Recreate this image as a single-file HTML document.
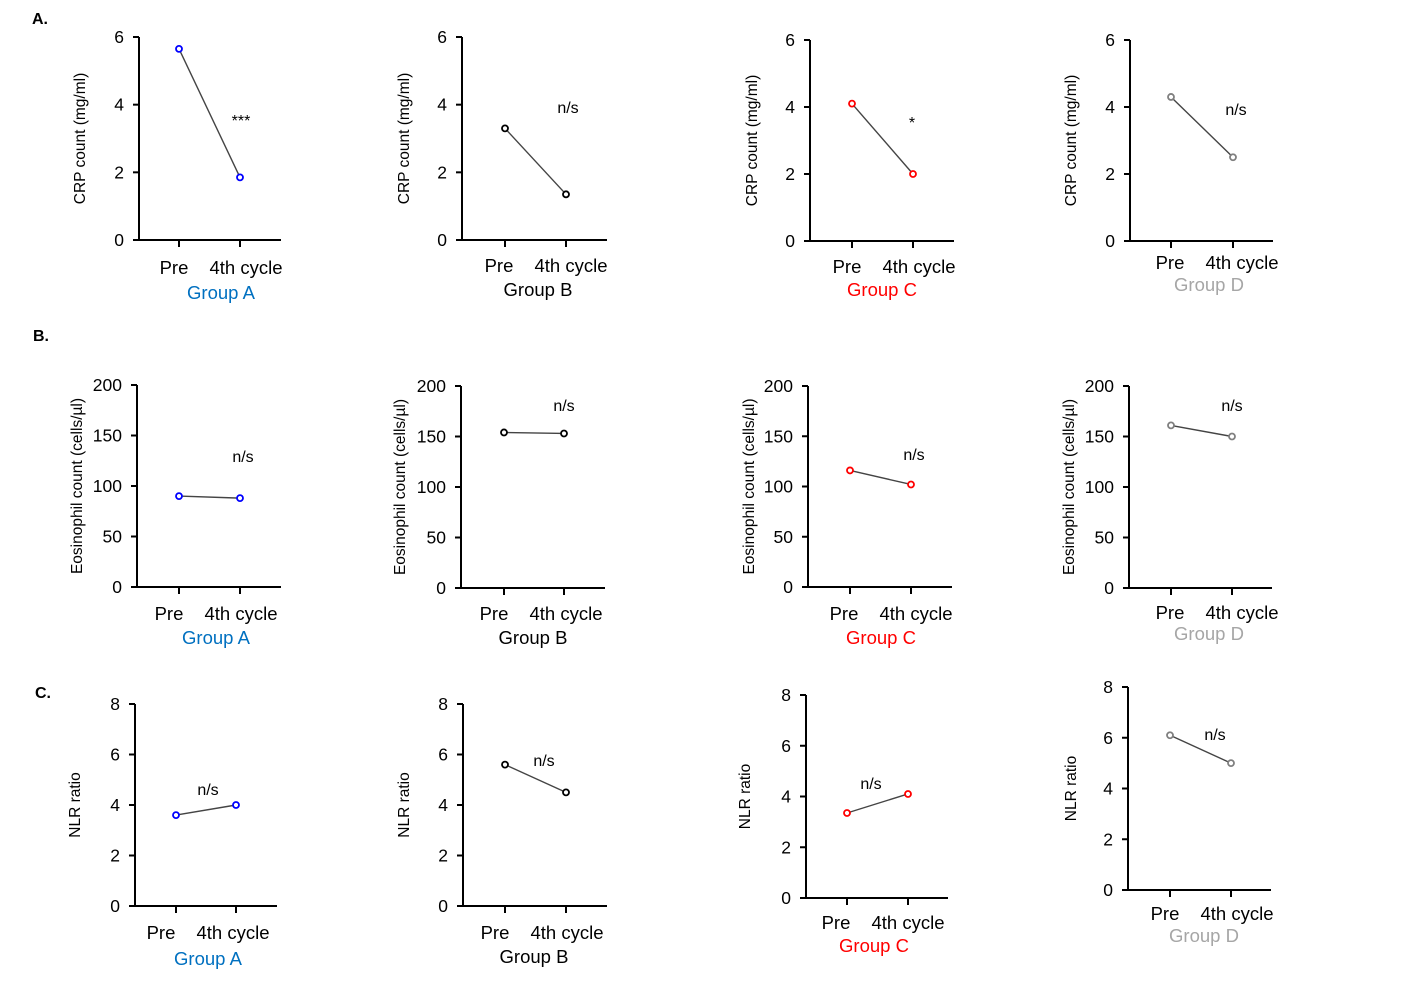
<!DOCTYPE html>
<html><head><meta charset="utf-8"><style>
body{margin:0;background:#fff;}
svg{display:block;font-family:"Liberation Sans",Arial,sans-serif;}
</style></head><body>
<svg id="fig" width="1406" height="986">
<text x="32" y="24" font-size="16" font-weight="bold">A.</text>
<text x="33" y="341" font-size="16" font-weight="bold">B.</text>
<text x="35" y="698" font-size="16" font-weight="bold">C.</text>
</svg>
<script>
// Data
const categories = ["Pre", "4th cycle"];
const groups = ["Group A", "Group B", "Group C", "Group D"];
const crpPre = [5.65, 3.3, 4.1, 4.3];
const crpPost = [1.85, 1.35, 2.0, 2.5];
const crpSig = ["***", "n/s", "*", "n/s"];
const eosPre = [90, 154, 116, 161];
const eosPost = [88, 153, 102, 150];
const eosSig = ["n/s", "n/s", "n/s", "n/s"];
const nlrPre = [3.6, 5.6, 3.35, 6.1];
const nlrPost = [4.0, 4.5, 4.1, 5.0];
const nlrSig = ["n/s", "n/s", "n/s", "n/s"];
const crpTicks = [0, 2, 4, 6];
const eosTicks = [0, 50, 100, 150, 200];
const nlrTicks = [0, 2, 4, 6, 8];

const groupColors = ["#0070C0", "#000", "#FF0000", "#A6A6A6"];
const markerColors = ["#0000FF", "#000", "#FF0000", "#808080"];

const rows = [
 {key:"crp", pre:crpPre, post:crpPost, sig:crpSig, ticks:crpTicks, max:6, title:"CRP count (mg/ml)",
  panels:[
   {ax:139,y0:240,yT:37,xe:281,px:179,qx:240,sx:241,sy:126,ly:274,gy:299,tx:85,pl:174,ql:246,gx:221},
   {ax:462,y0:240,yT:37,xe:607,px:505,qx:566,sx:568,sy:113,ly:272,gy:296,tx:409,pl:499,ql:571,gx:538},
   {ax:810,y0:241,yT:40,xe:954,px:852,qx:913,sx:912,sy:128,ly:273,gy:296,tx:757,pl:847,ql:919,gx:882},
   {ax:1130,y0:241,yT:40,xe:1273,px:1171,qx:1233,sx:1236,sy:115,ly:269,gy:291,tx:1076,pl:1170,ql:1242,gx:1209}]},
 {key:"eos", pre:eosPre, post:eosPost, sig:eosSig, ticks:eosTicks, max:200, title:"Eosinophil count (cells/µl)",
  panels:[
   {ax:137,y0:587,yT:385,xe:281,px:179,qx:240,sx:243,sy:462,ly:620,gy:644,tx:82,pl:169,ql:241,gx:216},
   {ax:461,y0:588,yT:386,xe:605,px:504,qx:564,sx:564,sy:411,ly:620,gy:644,tx:405,pl:494,ql:566,gx:533},
   {ax:808,y0:587,yT:386,xe:952,px:850,qx:911,sx:914,sy:460,ly:620,gy:644,tx:754,pl:844,ql:916,gx:881},
   {ax:1129,y0:588,yT:386,xe:1272,px:1171,qx:1232,sx:1232,sy:411,ly:619,gy:640,tx:1074,pl:1170,ql:1242,gx:1209}]},
 {key:"nlr", pre:nlrPre, post:nlrPost, sig:nlrSig, ticks:nlrTicks, max:8, title:"NLR ratio",
  panels:[
   {ax:135,y0:906,yT:704,xe:277,px:176,qx:236,sx:208,sy:795,ly:939,gy:965,tx:80,pl:161,ql:233,gx:208},
   {ax:463,y0:906,yT:704,xe:607,px:505,qx:566,sx:544,sy:766,ly:939,gy:963,tx:409,pl:495,ql:567,gx:534},
   {ax:806,y0:898,yT:695,xe:948,px:847,qx:908,sx:871,sy:789,ly:929,gy:952,tx:750,pl:836,ql:908,gx:874},
   {ax:1128,y0:890,yT:687,xe:1271,px:1170,qx:1231,sx:1215,sy:740,ly:920,gy:942,tx:1076,pl:1165,ql:1237,gx:1204}]}
];

const NS="http://www.w3.org/2000/svg";
const svg=document.getElementById("fig");
function mk(tag,attrs,parent,text){const e=document.createElementNS(NS,tag);for(const k in attrs)e.setAttribute(k,attrs[k]);if(text!==undefined)e.textContent=text;parent.appendChild(e);return e;}

rows.forEach(r=>{
 r.panels.forEach((p,i)=>{
  const g=mk("g",{},svg);
  
  
  const yS=v=>p.y0+(p.yT-p.y0)*v/r.max;
  const xS=[p.px,p.qx];
  const lx=[p.pl,p.ql];
  const ya=mk("line",{x1:p.ax,y1:yS(r.max),x2:p.ax,y2:p.y0+1,stroke:"#000","stroke-width":2},g);
  
  
  const xa=mk("line",{x1:p.ax-1,y1:p.y0,x2:p.xe,y2:p.y0,stroke:"#000","stroke-width":2},g);
  
  
  r.ticks.forEach(t=>{
   const y=yS(t);
   mk("line",{x1:p.ax-6,y1:y,x2:p.ax,y2:y,stroke:"#000","stroke-width":2},g);
   const tl=mk("text",{x:p.ax-15,y:y+6,"font-size":17.5,"text-anchor":"end"},g,String(t));
   
   
  });
  categories.forEach((c,j)=>{
   mk("line",{x1:xS[j],y1:p.y0,x2:xS[j],y2:p.y0+7,stroke:"#000","stroke-width":2},g);
   const xl=mk("text",{x:lx[j],y:p.ly,"font-size":18.5,"text-anchor":"middle"},g,c);
   
   
  });
  const gl=mk("text",{x:p.gx,y:p.gy,"font-size":18.5,"text-anchor":"middle",fill:groupColors[i]},g,groups[i]);
  
  
  const cy=(p.y0+yS(r.max))/2;
  const tt=mk("text",{x:p.tx,y:cy,"font-size":15.5,"text-anchor":"middle",transform:`rotate(-90 ${p.tx} ${cy})`},g,r.title);
  
  
  const vals=[r.pre[i],r.post[i]];
  const ln=mk("line",{x1:xS[0],y1:yS(vals[0]),x2:xS[1],y2:yS(vals[1]),stroke:"#444","stroke-width":1.4},g);
  
  
  vals.forEach((v,j)=>{
   const pt=mk("circle",{cx:xS[j],cy:yS(v),r:3,fill:"#fff",stroke:markerColors[i],"stroke-width":1.8},g);
   
   
  });
  const s=mk("text",{x:p.sx,y:p.sy,"font-size":r.sig[i].indexOf("*")>=0?16:16,"text-anchor":"middle"},g,r.sig[i]);
  
  
 });
});
</script>
</body></html>
